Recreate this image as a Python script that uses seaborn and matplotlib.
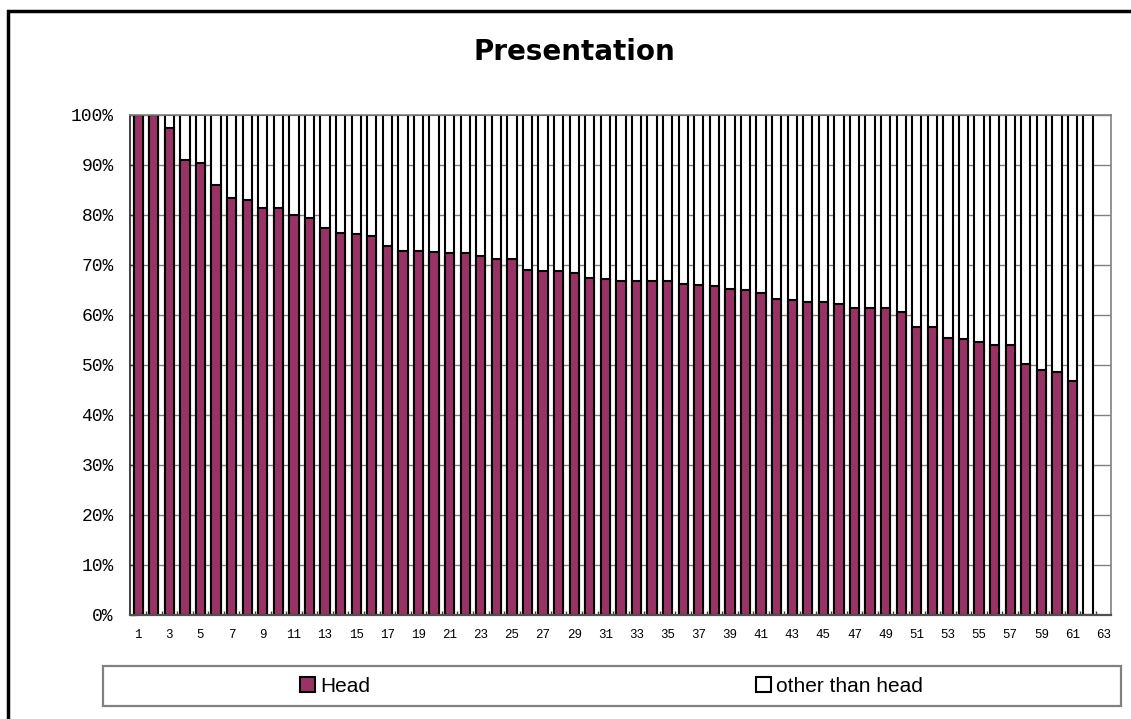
import matplotlib
matplotlib.use('Agg')
import matplotlib.pyplot as plt
from matplotlib.patches import Patch, Rectangle
from matplotlib.ticker import FixedLocator
import seaborn as sns
import pandas as pd

# data (share of "Head", in %)
bar_ids = [str(i) for i in range(1, 63)]
head = [100, 100, 97.3, 90.9, 90.4, 85.9, 83.3, 82.9, 81.3, 81.3,
        80.0, 79.4, 77.4, 76.3, 76.1, 75.7, 73.7, 72.8, 72.8, 72.5,
        72.3, 72.3, 71.7, 71.2, 71.1, 68.9, 68.8, 68.7, 68.4, 67.4,
        67.1, 66.7, 66.7, 66.7, 66.7, 66.1, 65.9, 65.7, 65.1, 64.9,
        64.4, 63.2, 62.9, 62.5, 62.5, 62.2, 61.3, 61.3, 61.3, 60.6,
        57.6, 57.5, 55.3, 55.1, 54.6, 53.9, 53.9, 50.1, 48.9, 48.5,
        46.7, 0]
other = [100 - h for h in head]
order = [str(i) for i in range(1, 64)]
yticks = list(range(0, 101, 10))

df = pd.DataFrame({'id': bar_ids, 'head': head, 'other': other})
df['total'] = df['head'] + df['other']

sns.set_style('white')
plt.rcParams['font.family'] = ['DejaVu Sans']
plt.rcParams['text.color'] = 'black'
plt.rcParams['xtick.color'] = 'black'
plt.rcParams['ytick.color'] = 'black'

fig = plt.figure(figsize=(11.31, 7.19), dpi=100)
ax = fig.add_axes([0.1153, 0.1451, 0.8674, 0.6954])

purple = '#993366'
sns.barplot(data=df, x='id', y='total', order=order, color='white', saturation=1,
            edgecolor='black', linewidth=1.5, width=0.6, errorbar=None, ax=ax)
sns.barplot(data=df, x='id', y='head', order=order, color=purple, saturation=1,
            edgecolor='black', linewidth=1.5, width=0.6, errorbar=None, ax=ax)

ax.set_xlim(-0.5, len(order) - 0.5)
ax.set_ylim(0, 100)
ax.set_xlabel('')
ax.set_ylabel('')

ax.set_yticks(yticks)
ax.set_yticklabels([f'{t}%' for t in yticks], fontfamily='Liberation Mono', fontsize=13)
ax.yaxis.grid(True, color='#808080', linewidth=1)
ax.set_axisbelow(True)
ax.tick_params(axis='y', direction='in', length=4, width=1, color='#404040',
               labelcolor='black', pad=12, left=True)

ax.set_xticks(range(len(order)))
ax.set_xticklabels([o if int(o) % 2 == 1 else '' for o in order],
                   fontfamily='Liberation Mono', fontsize=9)
ax.tick_params(axis='x', which='major', length=0, pad=10, labelcolor='black')
ax.xaxis.set_minor_locator(FixedLocator([i + 0.5 for i in range(len(order) - 1)]))
ax.tick_params(axis='x', which='minor', direction='in', length=3, width=1,
               color='#404040', bottom=True)

for side in ['top', 'right']:
    ax.spines[side].set_color('#808080')
    ax.spines[side].set_linewidth(1.2)
ax.spines['left'].set_color('#202020')
ax.spines['left'].set_linewidth(1.2)
ax.spines['bottom'].set_color('#505050')
ax.spines['bottom'].set_linewidth(1.6)

fig.text(0.508, 0.927, 'Presentation', ha='center', va='center', color='black',
         fontsize=20, fontweight='bold', family='DejaVu Sans')

# legend box
fig.patches.append(Rectangle((103 / 1131, 1 - 706 / 719), (1121 - 103) / 1131, 40 / 719,
                             transform=fig.transFigure, facecolor='none',
                             edgecolor='#808080', linewidth=1.6))
leg_font = {'family': 'Liberation Sans', 'size': 15}
h1 = Patch(facecolor=purple, edgecolor='black', linewidth=1.5, label='Head')
h2 = Patch(facecolor='white', edgecolor='black', linewidth=1.5, label='other than head')
for h, x in [(h1, 300 / 1131), (h2, 756 / 1131)]:
    lg = fig.legend(handles=[h], loc='center left', bbox_to_anchor=(x, 1 - 686 / 719),
                    frameon=False, prop=leg_font, borderpad=0, borderaxespad=0,
                    handlelength=0.7, handleheight=0.7, handletextpad=0.25,
                    labelcolor='black')

# outer chart border
fig.patches.append(Rectangle((8 / 1131, -0.5), 2, 0.5 + 1 - 11 / 719,
                             transform=fig.transFigure, facecolor='none',
                             edgecolor='black', linewidth=2.5))

fig.savefig('out.png', dpi=100)
